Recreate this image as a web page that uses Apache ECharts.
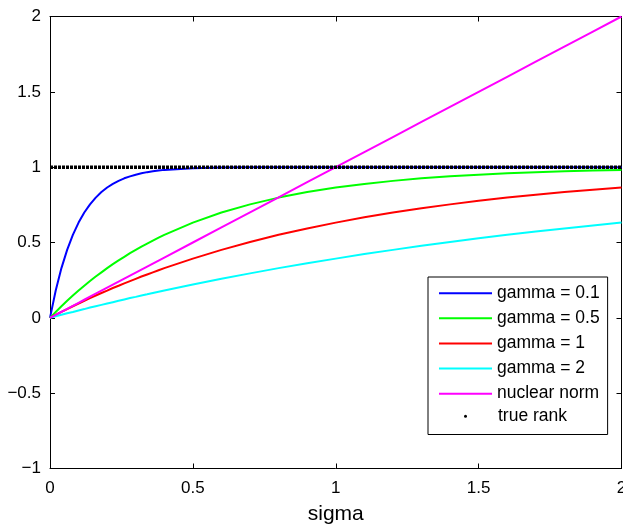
<!DOCTYPE html>
<html>
<head>
<meta charset="utf-8">
<script src="https://cdn.jsdelivr.net/npm/echarts@6/dist/echarts.min.js"></script>
<style>
html,body{margin:0;padding:0;background:#fff;}
#chart{width:623px;height:526px;}
</style>
</head>
<body>
<div id="chart"></div>
<script>
// ---- data ----
const sigma = [0, 0.02, 0.04, 0.06, 0.08, 0.10, 0.12, 0.14, 0.16, 0.18, 0.20, 0.22, 0.24, 0.26, 0.28, 0.30, 0.32, 0.34, 0.36, 0.38, 0.40,
  0.5, 0.6, 0.7, 0.8, 0.9, 1.0, 1.1, 1.2, 1.3, 1.4, 1.5, 1.6, 1.7, 1.8, 1.9, 2.0];
const gamma01 = [0, 0.181, 0.330, 0.451, 0.551, 0.632, 0.699, 0.753, 0.798, 0.835, 0.865, 0.889, 0.909, 0.926, 0.939, 0.950, 0.959, 0.967, 0.973, 0.978, 0.982,
  0.993, 0.998, 0.999, 1.0, 1.0, 1.0, 1.0, 1.0, 1.0, 1.0, 1.0, 1.0, 1.0, 1.0, 1.0, 1.0];
const gamma05 = [0, 0.039, 0.077, 0.113, 0.148, 0.181, 0.213, 0.244, 0.274, 0.302, 0.330, 0.356, 0.381, 0.405, 0.429, 0.451, 0.473, 0.493, 0.513, 0.532, 0.551,
  0.632, 0.699, 0.753, 0.798, 0.835, 0.865, 0.889, 0.909, 0.926, 0.939, 0.950, 0.959, 0.967, 0.973, 0.978, 0.982];
const gamma1 = [0, 0.020, 0.039, 0.058, 0.077, 0.095, 0.113, 0.131, 0.148, 0.165, 0.181, 0.198, 0.213, 0.229, 0.244, 0.259, 0.274, 0.288, 0.302, 0.316, 0.330,
  0.393, 0.451, 0.503, 0.551, 0.593, 0.632, 0.667, 0.699, 0.727, 0.753, 0.777, 0.798, 0.817, 0.835, 0.850, 0.865];
const gamma2 = [0, 0.010, 0.020, 0.030, 0.039, 0.049, 0.058, 0.068, 0.077, 0.086, 0.095, 0.104, 0.113, 0.122, 0.131, 0.139, 0.148, 0.156, 0.165, 0.173, 0.181,
  0.221, 0.259, 0.295, 0.330, 0.362, 0.393, 0.423, 0.451, 0.478, 0.503, 0.528, 0.551, 0.573, 0.593, 0.613, 0.632];
const nuclearNorm = [0, 0.02, 0.04, 0.06, 0.08, 0.10, 0.12, 0.14, 0.16, 0.18, 0.20, 0.22, 0.24, 0.26, 0.28, 0.30, 0.32, 0.34, 0.36, 0.38, 0.40,
  0.5, 0.6, 0.7, 0.8, 0.9, 1.0, 1.1, 1.2, 1.3, 1.4, 1.5, 1.6, 1.7, 1.8, 1.9, 2.0];
const trueRank = [1, 1, 1, 1, 1, 1, 1, 1, 1, 1, 1, 1, 1, 1, 1, 1, 1, 1, 1, 1, 1,
  1, 1, 1, 1, 1, 1, 1, 1, 1, 1, 1, 1, 1, 1, 1, 1];
const seriesNames = ['gamma = 0.1', 'gamma = 0.5', 'gamma = 1', 'gamma = 2', 'nuclear norm', 'true rank'];
const xTickLabels = ['0', '0.5', '1', '1.5', '2'];
const yTickLabels = ['\u22121', '\u22120.5', '0', '0.5', '1', '1.5', '2'];
const xAxisName = 'sigma';

// ---- chart ----
const FONT = '"Liberation Sans", Arial, sans-serif';
const pairs = ys => sigma.map((x, i) => [x, ys[i]]);
const xLab = v => xTickLabels[Math.round(v / 0.5)];
const yLab = v => yTickLabels[Math.round((v + 1) / 0.5)];

const axisCommon = {
  axisLine: { show: true, onZero: false, lineStyle: { color: '#000', width: 1 } },
  axisTick: { show: true, inside: true, length: 5, lineStyle: { color: '#000', width: 1 } },
  splitLine: { show: false }
};

function lineSeries(name, ys, color) {
  return {
    name, type: 'line', data: pairs(ys), symbol: 'none', smooth: false,
    lineStyle: { color, width: 2 }, itemStyle: { color }, z: 2
  };
}

const chart = echarts.init(document.getElementById('chart'), null, { renderer: 'canvas' });
chart.setOption({
  backgroundColor: '#fff',
  animation: false,
  grid: { left: 50, right: 1.5, top: 16.5, bottom: 57.5, containLabel: false, outerBoundsMode: 'none' },
  xAxis: [
    Object.assign({ type: 'value', min: 0, max: 2, interval: 0.5, position: 'bottom',
      name: xAxisName, nameLocation: 'middle', nameGap: 35,
      nameTextStyle: { fontFamily: FONT, fontSize: 21, color: '#000' },
      axisLabel: { show: true, margin: 11, fontFamily: FONT, fontSize: 17, color: '#000', formatter: xLab, showMaxLabel: true, showMinLabel: true, hideOverlap: false }
    }, axisCommon),
    Object.assign({ type: 'value', min: 0, max: 2, interval: 0.5, position: 'top', axisLabel: { show: false } }, axisCommon)
  ],
  yAxis: [
    Object.assign({ type: 'value', min: -1, max: 2, interval: 0.5, position: 'left',
      axisLabel: { show: true, margin: 9, fontFamily: FONT, fontSize: 17, color: '#000', formatter: yLab }
    }, axisCommon),
    Object.assign({ type: 'value', min: -1, max: 2, interval: 0.5, position: 'right', axisLabel: { show: false } }, axisCommon)
  ],
  legend: [
    {
      data: seriesNames.slice(0, 5).map(n => ({ name: n, icon: 'rect' })),
      orient: 'vertical', left: 428, top: 277,
      padding: [7.25, 8, 31.85, 11],
      itemWidth: 53, itemHeight: 2, itemGap: 7.1,
      backgroundColor: '#fff', borderColor: '#000', borderWidth: 1,
      textStyle: { fontFamily: FONT, fontSize: 17.5, color: '#000' },
      selectedMode: false
    },
    {
      data: [{ name: seriesNames[5], icon: 'circle' }],
      orient: 'vertical', left: 464, top: 407.25, padding: 0,
      itemWidth: 3, itemHeight: 3,
      textStyle: { fontFamily: FONT, fontSize: 17.5, color: '#000', padding: [0, 0, 0, 26] },
      selectedMode: false
    }
  ],
  series: [
    lineSeries(seriesNames[0], gamma01, '#0000ff'),
    lineSeries(seriesNames[1], gamma05, '#00ff00'),
    lineSeries(seriesNames[2], gamma1, '#ff0000'),
    lineSeries(seriesNames[3], gamma2, '#00ffff'),
    lineSeries(seriesNames[4], nuclearNorm, '#ff00ff'),
    {
      name: seriesNames[5], type: 'line', data: pairs(trueRank), symbol: 'none',
      lineStyle: { color: '#000', width: 3.5, type: [3, 1] }, itemStyle: { color: '#000' }, z: 3
    }
  ]
});
</script>
</body>
</html>
